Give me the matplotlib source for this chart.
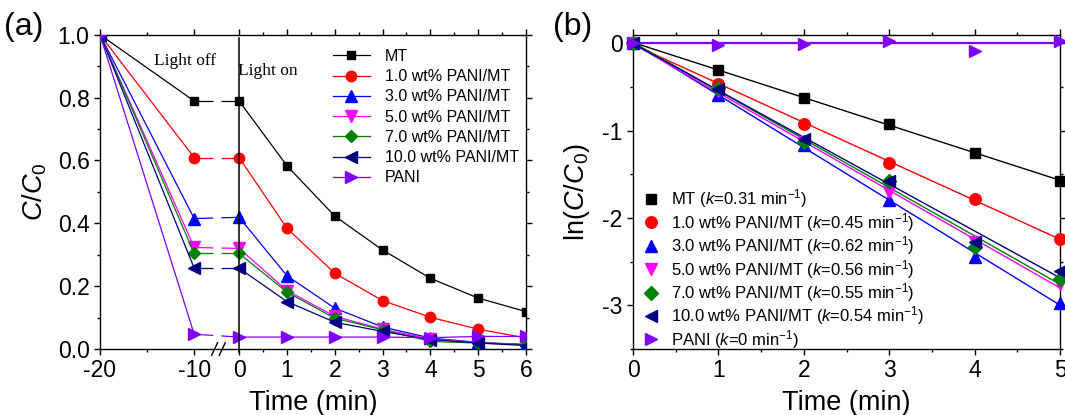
import numpy as np
import matplotlib
matplotlib.use('Agg')
import matplotlib.pyplot as plt
from matplotlib.ticker import FixedLocator, MultipleLocator

plt.rcParams['font.family'] = ['Liberation Sans', 'DejaVu Sans']
plt.rcParams['mathtext.fontset'] = 'custom'
plt.rcParams['mathtext.rm'] = 'Liberation Sans'
plt.rcParams['mathtext.it'] = 'Liberation Sans:italic'
plt.rcParams['axes.unicode_minus'] = False
plt.rcParams['lines.scale_dashes'] = False

# ---- data, panel (a): C/C0 vs time ----
t_dark = [-20, -10]
t_light = [0, 1, 2, 3, 4, 5, 6]
labels = ['MT', '1.0 wt% PANI/MT', '3.0 wt% PANI/MT', '5.0 wt% PANI/MT',
          '7.0 wt% PANI/MT', '10.0 wt% PANI/MT', 'PANI']
colors = ['black', '#FF0000', '#0000FF', '#FF00FF', '#008000', '#000080', '#8000FF']
markers = ['s', 'o', '^', 'v', 'D', '<', '>']
msizes = [6, 7.5, 8, 8, 6, 8, 8]

c_dark = [
    [1.0, 0.789],
    [1.0, 0.609],
    [1.0, 0.415],
    [1.0, 0.323],
    [1.0, 0.304],
    [1.0, 0.257],
    [1.0, 0.047],
]
c_light = [
    [0.789, 0.583, 0.423, 0.315, 0.225, 0.162, 0.119],
    [0.609, 0.384, 0.241, 0.154, 0.101, 0.063, 0.035],
    [0.419, 0.233, 0.130, 0.070, 0.035, 0.021, 0.014],
    [0.320, 0.186, 0.104, 0.063, 0.032, 0.021, 0.014],
    [0.304, 0.181, 0.098, 0.061, 0.024, 0.019, 0.014],
    [0.257, 0.151, 0.085, 0.056, 0.030, 0.019, 0.011],
    [0.038, 0.038, 0.038, 0.038, 0.036, 0.040, 0.040],
]

# ---- data, panel (b): ln(C/C0) vs time ----
t_kin = [0, 1, 2, 3, 4, 5]
ln_c = [
    [0, -0.30, -0.62, -0.92, -1.25, -1.58],
    [0, -0.46, -0.92, -1.37, -1.78, -2.24],
    [0, -0.59, -1.16, -1.79, -2.45, -2.97],
    [0, -0.55, -1.13, -1.70, -2.28, -2.76],
    [0, -0.51, -1.13, -1.57, -2.33, -2.70],
    [0, -0.52, -1.09, -1.57, -2.27, -2.61],
    [0, -0.015, -0.01, 0.03, -0.09, 0.03],
]
k_vals = ['0.31', '0.45', '0.62', '0.56', '0.55', '0.54', '0']

# broken time axis: -20..-10 and -10..0 compressed
brk_t = [-20, -10, 0, 6]
brk_p = [-2.91, -0.94, 0, 6]

fig = plt.figure(figsize=(10.65, 4.15), dpi=100)
ax1 = fig.add_axes([100 / 1065, 1 - 349 / 415, 426 / 1065, 314.3 / 415])
ax2 = fig.add_axes([633 / 1065, 1 - 349 / 415, 427 / 1065, 314.3 / 415])

ax1.set_xscale('function', functions=(lambda t: np.interp(t, brk_t, brk_p),
                                      lambda p: np.interp(p, brk_p, brk_t)))
ax1.set_xlim(-20, 6)
ax1.set_ylim(0, 1.0)

for i in range(len(labels)):
    col = colors[i]
    ax1.plot(t_dark, c_dark[i], color=col, lw=0.9, marker=markers[i],
             ms=msizes[i], mec=col, mfc=col, zorder=3)
    ax1.plot([t_dark[-1], t_light[0]], [c_dark[i][-1], c_light[i][0]],
             color=col, lw=0.9, dashes=(13.7, 5.8), zorder=2)
    ax1.plot(t_light, c_light[i], color=col, lw=0.9, marker=markers[i],
             ms=msizes[i], mec=col, mfc=col, label=labels[i], zorder=3)

ax1.axvline(0, ymin=-0.01, ymax=0.99, color='black', lw=1.1, clip_on=False, zorder=4)
ax1.text(0.20, 0.915, 'Light off', transform=ax1.transAxes, ha='center', va='center',
         family='Liberation Serif', fontsize=12.5)
ax1.text(0.395, 0.885, 'Light on', transform=ax1.transAxes, ha='center', va='center',
         family='Liberation Serif', fontsize=12.5)

# axis break marks
for dx in (0, 0.018):
    ax1.plot([0.262 + dx, 0.276 + dx], [-0.02, 0.02], transform=ax1.transAxes,
             color='black', lw=1.0, clip_on=False, zorder=5)

ax1.xaxis.set_major_locator(FixedLocator([-20, -10, 0, 1, 2, 3, 4, 5, 6]))
ax1.xaxis.set_minor_locator(FixedLocator([-15, 0.5, 1.5, 2.5, 3.5, 4.5, 5.5]))
ax1.yaxis.set_major_locator(MultipleLocator(0.2))
ax1.yaxis.set_minor_locator(MultipleLocator(0.1))
ax1.yaxis.set_major_formatter(plt.FormatStrFormatter('%.1f'))

ax1.legend(loc='upper left', bbox_to_anchor=(0.547, 0.955), frameon=False,
           fontsize=11.5, handlelength=2.3, handletextpad=0.95,
           labelspacing=0.33, borderpad=0, borderaxespad=0)

ax1.set_xlabel('Time (min)', fontsize=19.5)
ax1.set_ylabel(r'$C$/$C$$_{\rm 0}$', fontsize=19.5)
ax1.xaxis.set_label_coords(0.5, -0.13)
ax1.yaxis.set_label_coords(-0.12, 0.5)

# ---- panel (b) ----
ax2.set_xlim(0, 5)
ax2.set_ylim(-3.5, 0.1)
tt = np.array(t_kin, dtype=float)
for i in range(len(labels)):
    col = colors[i]
    slope, icpt = np.polyfit(tt, ln_c[i], 1)
    if k_vals[i] == '0':
        slope, icpt = 0.0, 0.0
    ax2.plot(tt, slope * tt + icpt, color=col, lw=1.0 if i < 6 else 1.6, zorder=2)
    ax2.plot(tt, ln_c[i], ls='none', marker=markers[i], ms=msizes[i] + 0.8,
             mec=col, mfc=col, clip_on=False, zorder=3,
             label=labels[i] + r' ($k$=' + k_vals[i] + r' min$^{-1}$)')

ax2.xaxis.set_major_locator(MultipleLocator(1))
ax2.xaxis.set_minor_locator(MultipleLocator(0.5))
ax2.yaxis.set_major_locator(FixedLocator([0, -1, -2, -3]))
ax2.yaxis.set_minor_locator(MultipleLocator(0.5))
ax2.yaxis.set_major_formatter(plt.FormatStrFormatter('%d'))

ax2.legend(loc='lower left', bbox_to_anchor=(0.025, -0.006), frameon=False,
           fontsize=12, handlelength=0.9, handletextpad=0.75,
           labelspacing=0.03, borderpad=0, borderaxespad=0)

ax2.set_xlabel('Time (min)', fontsize=19.5)
ax2.set_ylabel(r'ln($C$/$C$$_{\rm 0}$)', fontsize=19.5)
ax2.xaxis.set_label_coords(0.5, -0.13)
ax2.yaxis.set_label_coords(-0.096, 0.5)

for ax in (ax1, ax2):
    for sp in ax.spines.values():
        sp.set_linewidth(1.0)
    ax.tick_params(which='both', direction='out', top=True, right=True,
                   labelsize=16.5, width=1.0)
    ax.tick_params(which='major', length=4)
    ax.tick_params(which='minor', length=2.5)
    ax.tick_params(axis='x', pad=3)

fig.text(0.004, 0.935, '(a)', fontsize=23, va='center', ha='left')
fig.text(0.519, 0.935, '(b)', fontsize=23, va='center', ha='left')

fig.savefig('out.png', dpi=100)
